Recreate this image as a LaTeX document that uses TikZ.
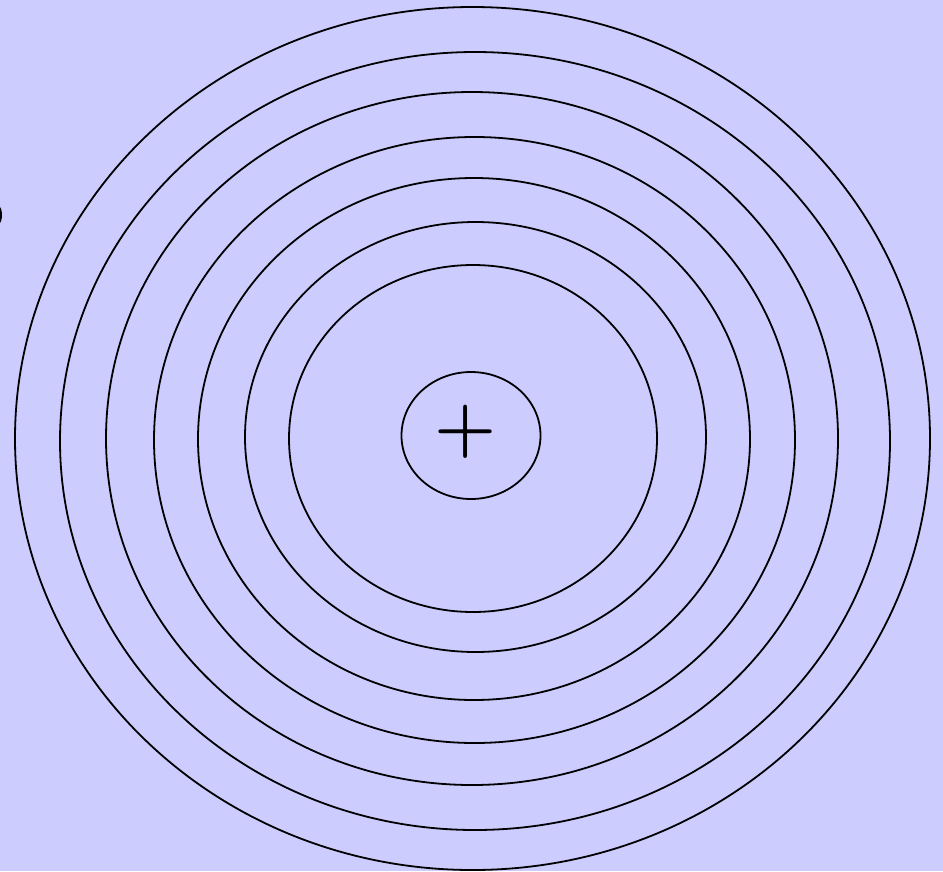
\documentclass[tikz,border=0pt]{standalone}
\usetikzlibrary{shapes.geometric}
\definecolor{bgc}{HTML}{CCCCFF}
\tikzset{ring/.style={draw=black, line width=1.8pt}}
\begin{document}
\begin{tikzpicture}[x=1pt,y=-1pt]
\useasboundingbox (0,0) rectangle (943,871);
\clip (0,0) rectangle (943,871);
\fill[bgc] (0,0) rectangle (943,871);
\draw[ring] (472.5,438.5) ellipse [x radius=457.5, y radius=431.5];
\draw[ring] (475,441) ellipse [x radius=415, y radius=389];
\draw[ring] (472,438.5) ellipse [x radius=366, y radius=346.5];
\draw[ring] (474.5,440) ellipse [x radius=320.5, y radius=303];
\draw[ring] (474,439) ellipse [x radius=276, y radius=261];
\draw[ring] (475.5,437) ellipse [x radius=230.5, y radius=215];
\draw[ring] (473,438.5) ellipse [x radius=184, y radius=173.5];
\node[ring, ellipse, minimum width=139pt, minimum height=127pt, inner sep=0pt] (nuc) at (471,435.5) {};
\node[inner sep=0pt, font=\fontsize{71}{71}\selectfont\bfseries] (plus) at (466,432) {+};
\draw[line width=3pt] (-10,215) ellipse [x radius=10.5, y radius=14];
\end{tikzpicture}
\end{document}
